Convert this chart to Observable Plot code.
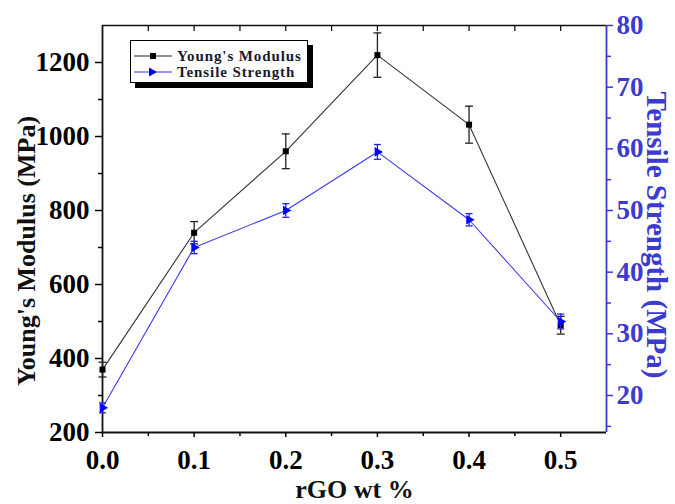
<!DOCTYPE html>
<html>
<head>
<meta charset="utf-8">
<script src="https://cdn.jsdelivr.net/npm/d3@7"></script>
<script src="https://cdn.jsdelivr.net/npm/@observablehq/plot@0.6"></script>
<style>
  body { margin: 0; background: #fff; }
  #wrap { position: relative; width: 675px; height: 504px; overflow: hidden; }
  #legend {
    position: absolute; left: 130px; top: 40px; width: 176px; height: 41px;
    border: 1.5px solid #000; background: #fff; box-shadow: 5px 5px 0 #000;
    font-family: 'Liberation Serif', 'Times New Roman', serif; font-weight: bold;
    font-size: 15px; letter-spacing: 0.9px; color: #1a1a2e;
  }
  .row { position: absolute; left: 2px; display: flex; align-items: center; height: 16px; white-space: nowrap; }
  .row svg { margin-right: 4px; }
</style>
</head>
<body>
<div id="wrap">
  <div id="chart"></div>
  <div id="legend">
    <div class="row" style="top:7px">
      <svg width="40" height="16"><line x1="1" y1="8" x2="39" y2="8" stroke="#222" stroke-width="1.2"/><rect x="17" y="5" width="6" height="6" fill="#000"/></svg>
      <span>Young's Modulus</span>
    </div>
    <div class="row" style="top:23px">
      <svg width="40" height="16"><line x1="1" y1="8" x2="39" y2="8" stroke="#3a3aee" stroke-width="1.2"/><path d="M16,3.5 L24,8 L16,12.5 Z" fill="#0000ff"/></svg>
      <span>Tensile Strength</span>
    </div>
  </div>
</div>
<script>
// ---- data ----
const rgo = [0, 0.1, 0.2, 0.3, 0.4, 0.5];
const youngs = [370, 740, 960, 1220, 1032, 490];
const youngsErr = [20, 30, 47, 60, 50, 24];
const tensile = [18, 44, 50, 59.5, 48.5, 32];
const tensileErr = [0.8, 1, 1.1, 1.2, 1, 1.2];

const xTicks = [0, 0.1, 0.2, 0.3, 0.4, 0.5];
const xMinor = [0.05, 0.15, 0.25, 0.35, 0.45];
const xTopTicks = [0.05, 0.1, 0.15, 0.2, 0.25, 0.3, 0.35, 0.4, 0.45, 0.5];
const yTicks = [200, 400, 600, 800, 1000, 1200];
const yMinor = [300, 500, 700, 900, 1100];
const tTicks = [20, 30, 40, 50, 60, 70, 80];
const tMinor = [15, 25, 35, 45, 55, 65, 75];

// map tensile (right axis, 14..80) onto left scale (200..1300)
const T0 = 14, T1 = 80, Y0 = 200, Y1 = 1300;
const f = t => Y0 + (t - T0) * (Y1 - Y0) / (T1 - T0);
const finv = v => T0 + (v - Y0) * (T1 - T0) / (Y1 - Y0);

const ym = rgo.map((x, i) => ({x, y: youngs[i], lo: youngs[i] - youngsErr[i], hi: youngs[i] + youngsErr[i]}));
const ts = rgo.map((x, i) => ({x, y: f(tensile[i]), lo: f(tensile[i] - tensileErr[i]), hi: f(tensile[i] + tensileErr[i])}));

const cap = {draw(ctx, size) { const w = Math.sqrt(size / Math.PI); ctx.moveTo(-w, 0); ctx.lineTo(w, 0); }};
const BLUE = "#3b3bd0";
const font = "'Liberation Serif', 'Times New Roman', serif";

const plot = Plot.plot({
  width: 675, height: 504,
  marginLeft: 102, marginRight: 69, marginTop: 25, marginBottom: 72,
  x: {domain: [0, 0.55]},
  y: {domain: [Y0, Y1]},
  style: {fontFamily: font, background: "white", color: "black"},
  marks: [
    // axes
    Plot.axisX({anchor: "bottom", ticks: xTicks, tickFormat: d3.format(".1f"), tickSize: 5, tickPadding: 12,
      fontSize: 27, fontWeight: "bold", strokeWidth: 1.5, label: null}),
    Plot.axisX({anchor: "bottom", ticks: xMinor, tickFormat: () => "", tickSize: 4, strokeWidth: 1.5, label: null}),
    Plot.axisX({anchor: "top", ticks: xTopTicks, tickFormat: () => "", tickSize: -5, strokeWidth: 1.2, label: null}),
    Plot.axisY({anchor: "left", ticks: yTicks, tickFormat: d => String(d), tickSize: 7, tickPadding: 6,
      fontSize: 27, fontWeight: "bold", strokeWidth: 1.5, label: null}),
    Plot.axisY({anchor: "left", ticks: yMinor, tickFormat: () => "", tickSize: 4, strokeWidth: 1.5, label: null}),
    Plot.axisY({anchor: "right", ticks: tTicks.map(f), tickFormat: v => String(Math.round(finv(v))), tickSize: 6, tickPadding: 4,
      fontSize: 27, fontWeight: "bold", color: BLUE, strokeWidth: 1.5, label: null}),
    Plot.axisY({anchor: "right", ticks: tMinor.map(f), tickFormat: () => "", tickSize: 4, color: BLUE, strokeWidth: 1.5, label: null}),
    // frame lines
    Plot.ruleY([Y0], {stroke: "#111", strokeWidth: 1.8}),
    Plot.ruleY([Y1], {stroke: "#111", strokeWidth: 1.5}),
    Plot.ruleX([0], {stroke: "#111", strokeWidth: 1.8}),
    Plot.ruleX([0.55], {stroke: BLUE, strokeWidth: 1.8}),
    // Young's modulus
    Plot.line(ym, {x: "x", y: "y", stroke: "#333", strokeWidth: 1.1}),
    Plot.ruleX(ym, {x: "x", y1: "lo", y2: "hi", stroke: "#222", strokeWidth: 1.3}),
    Plot.dot(ym, {x: "x", y: "lo", symbol: cap, r: 4, stroke: "#222", strokeWidth: 1.3, fill: "none"}),
    Plot.dot(ym, {x: "x", y: "hi", symbol: cap, r: 4, stroke: "#222", strokeWidth: 1.3, fill: "none"}),
    Plot.dot(ym, {x: "x", y: "y", symbol: "square", r: 3.4, fill: "#000", stroke: "none"}),
    // Tensile strength
    Plot.line(ts, {x: "x", y: "y", stroke: "#3a3aee", strokeWidth: 1.1}),
    Plot.ruleX(ts, {x: "x", y1: "lo", y2: "hi", stroke: "#2222dd", strokeWidth: 1.3}),
    Plot.dot(ts, {x: "x", y: "lo", symbol: cap, r: 3.5, stroke: "#2222dd", strokeWidth: 1.3, fill: "none"}),
    Plot.dot(ts, {x: "x", y: "hi", symbol: cap, r: 3.5, stroke: "#2222dd", strokeWidth: 1.3, fill: "none"}),
    Plot.dot(ts, {x: "x", y: "y", symbol: "triangle", rotate: 90, r: 3.6, fill: "#0000ff", stroke: "none"}),
    // titles
    Plot.text(["rGO wt %"], {frameAnchor: "bottom", dy: 57, lineAnchor: "middle", textAnchor: "middle", fontSize: 26, fontWeight: "bold", fill: "#111"}),
    Plot.text(["Young's Modulus (MPa)"], {frameAnchor: "left", dx: -76, dy: 22, rotate: -90, lineAnchor: "middle", textAnchor: "middle", fontSize: 26, fontWeight: "bold", fill: "#111"}),
    Plot.text(["Tensile Strength (MPa)"], {frameAnchor: "right", dx: 50, dy: 6, rotate: 90, lineAnchor: "middle", textAnchor: "middle", fontSize: 29, fontWeight: "bold", fill: BLUE})
  ]
});
document.getElementById("chart").appendChild(plot);
</script>
</body>
</html>
